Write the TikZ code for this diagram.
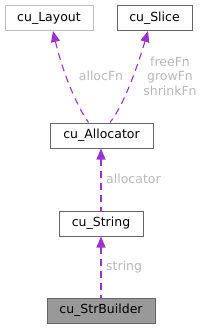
\documentclass[tikz,border=0pt]{standalone}
\usepackage{fontspec}
\setmainfont{DejaVu Sans}
\usetikzlibrary{arrows.meta}
\definecolor{edgecol}{HTML}{9A32CD}
\definecolor{labcol}{HTML}{B8B8B8}
\definecolor{darkb}{HTML}{666666}
\definecolor{lightb}{HTML}{BFBFBF}
\definecolor{fillg}{HTML}{999999}
\tikzset{
  box/.style={draw=darkb, line width=1pt, fill=white, inner sep=0pt, minimum height=25pt, font=\fontsize{12.5pt}{14pt}\selectfont},
  edge/.style={draw=edgecol, line width=1.1pt, dash pattern=on 7pt off 5pt, {Triangle[length=11pt,width=9pt,fill=edgecol]}-},
  elabel/.style={text=labcol, font=\fontsize{12.5pt}{14.5pt}\selectfont, inner sep=0pt, align=center}
}
\begin{document}
\begin{tikzpicture}[x=1pt,y=-1pt]
\useasboundingbox (0,0) rectangle (205,329);
\node[box, draw=lightb, minimum width=88pt] (layout) at (49,18) {cu\_Layout};
\node[box, minimum width=75pt] (slice) at (154.5,18) {cu\_Slice};
\node[box, minimum width=103pt] (alloc) at (101.5,135.5) {cu\_Allocator};
\node[box, minimum width=84pt] (string) at (101,223.5) {cu\_String};
\node[box, fill=fillg, minimum width=108pt] (builder) at (101,310.5) {cu\_StrBuilder};
\draw[edge] ([xshift=4pt]layout.south) .. controls (62,70) and (76,105) .. ([xshift=-13pt]alloc.north);
\draw[edge] ([xshift=-6.5pt]slice.south) .. controls (138,65) and (124,105) .. ([xshift=8.5pt]alloc.north);
\draw[edge] (alloc.south) ++(-0.5pt,0) coordinate (a1) (a1) -- (string.north);
\draw[edge] (string.south) -- (builder.north);
\node[elabel] (l1) at (101,76) {allocFn};
\node[elabel] (l2) at (170,76) {freeFn\\growFn\\shrinkFn};
\node[elabel, anchor=west] (l3) at (106,179) {allocator};
\node[elabel, anchor=west] (l4) at (106,267) {string};
\end{tikzpicture}
\end{document}
